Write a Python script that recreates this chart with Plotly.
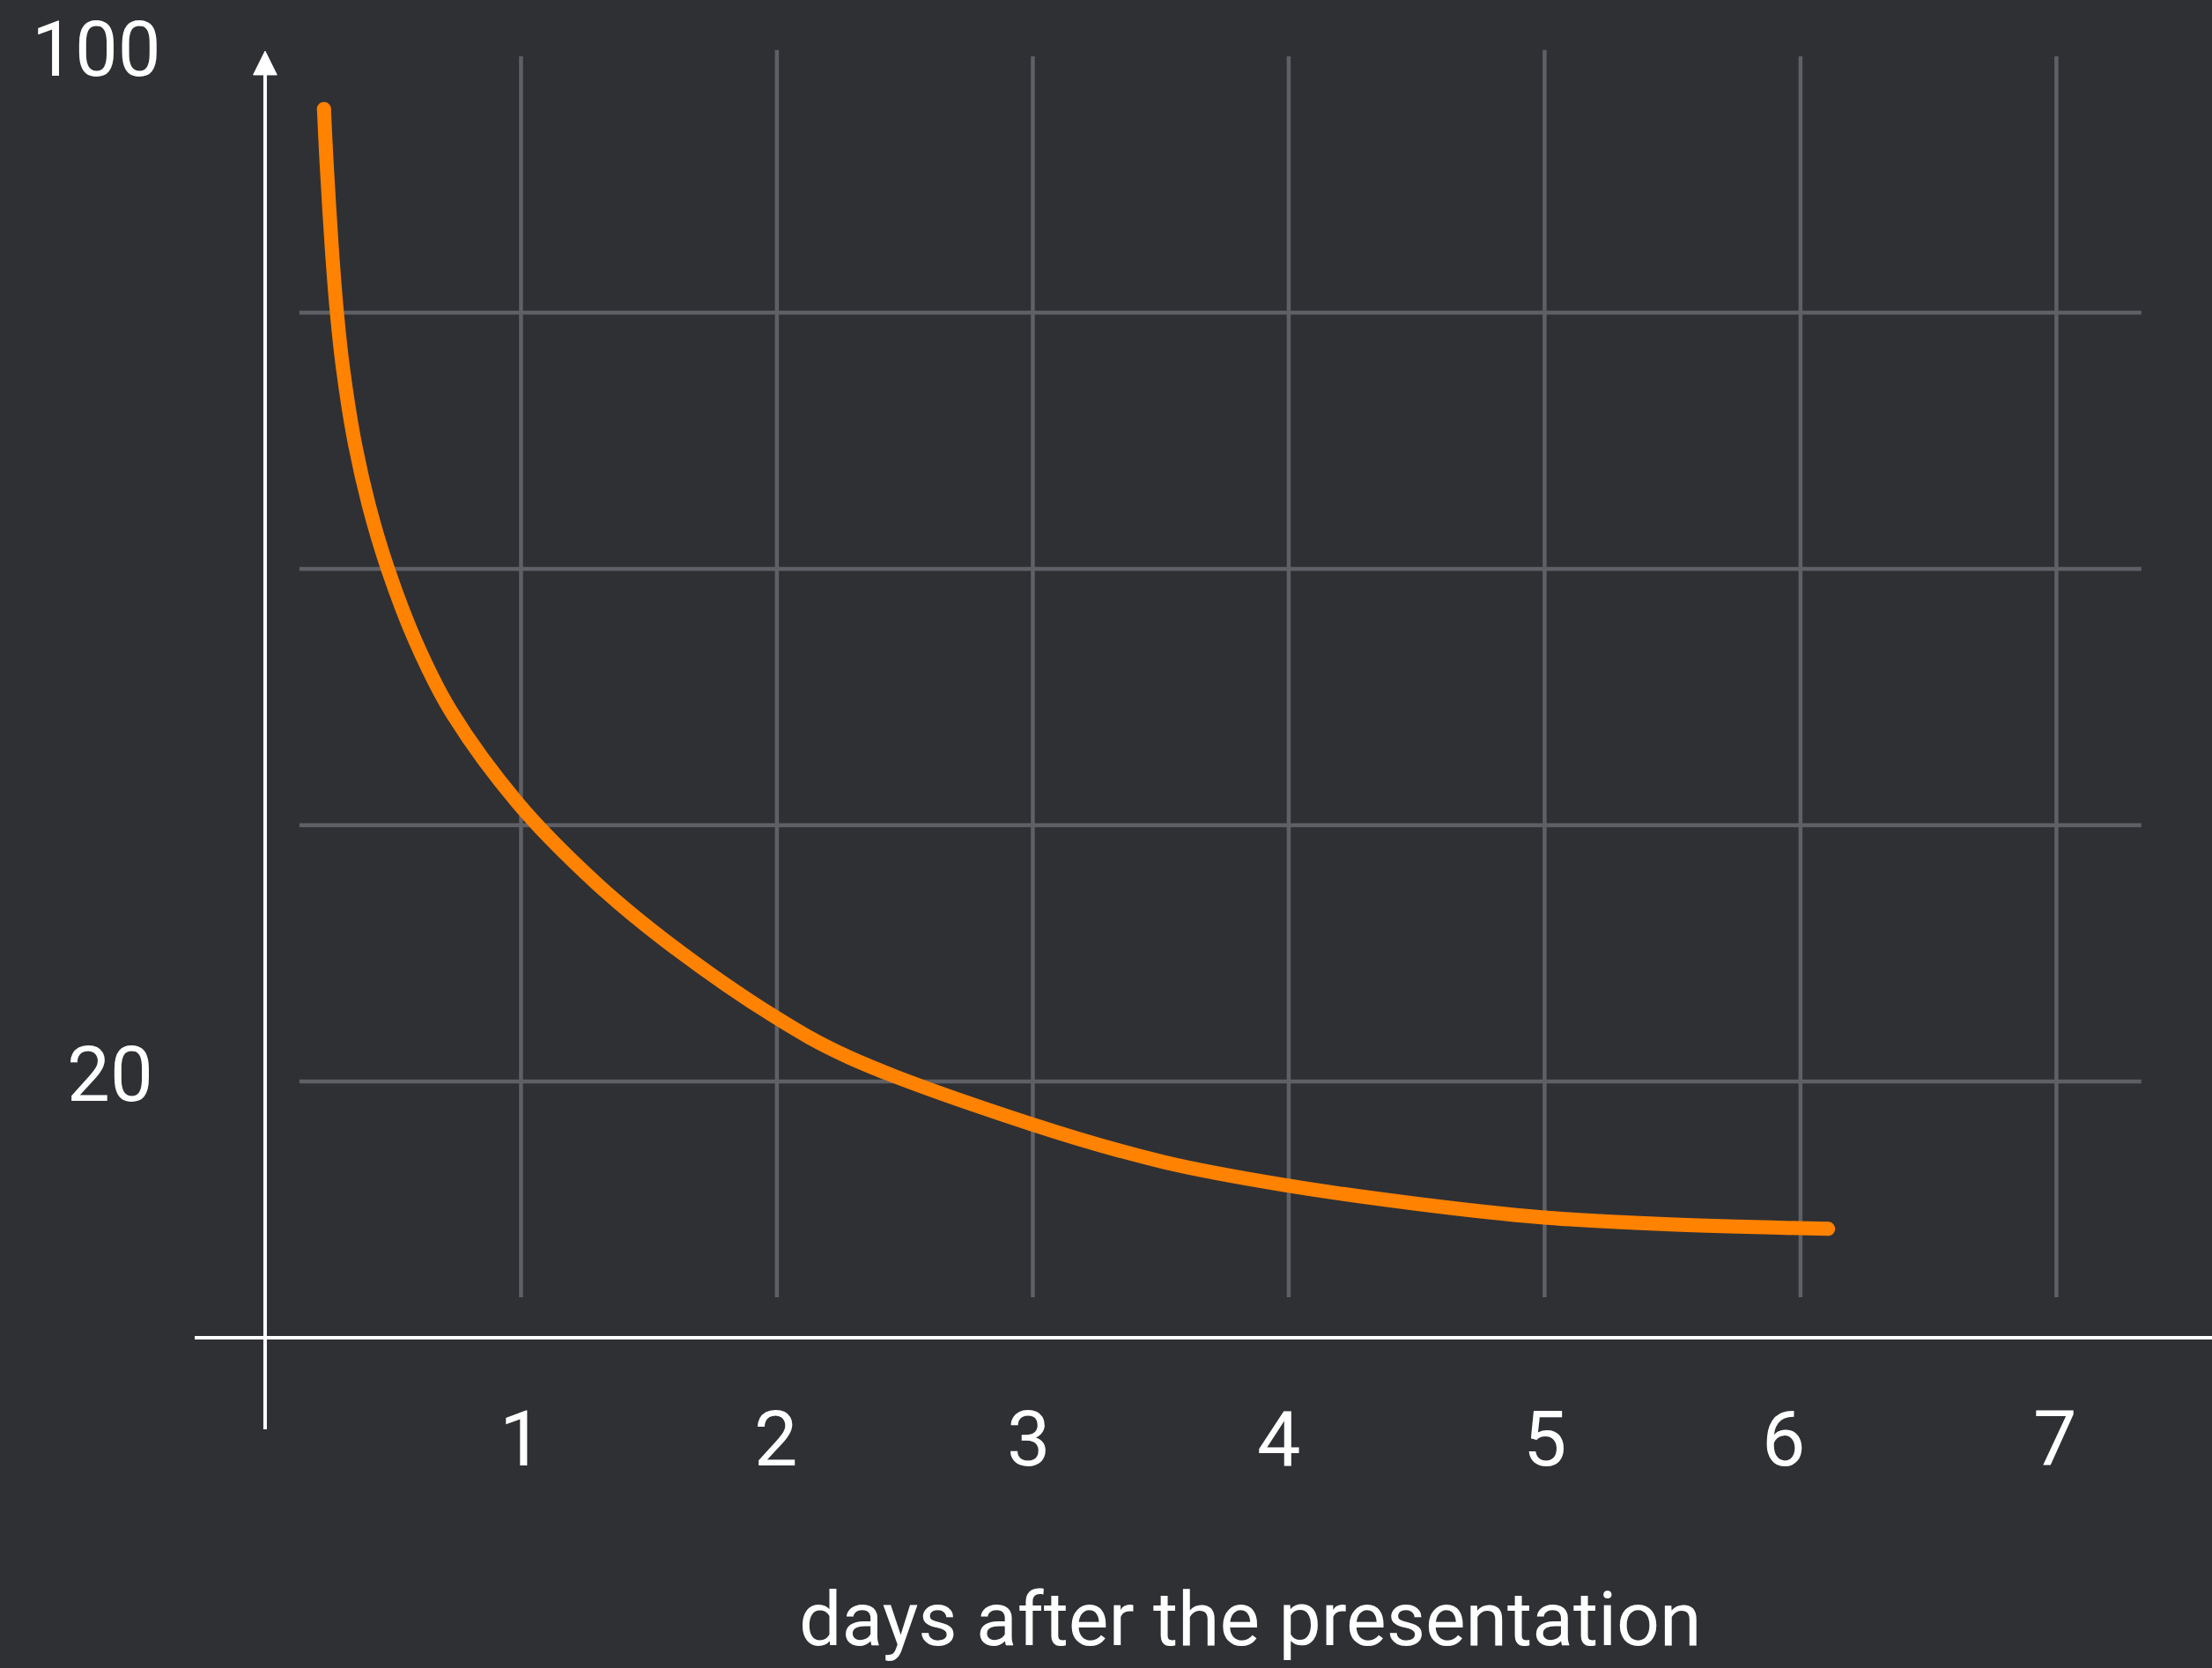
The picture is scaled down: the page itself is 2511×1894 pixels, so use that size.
import plotly.graph_objects as go

# ---- data ----
days = [0.230, 0.240, 0.261, 0.281, 0.304, 0.346, 0.405, 0.478, 0.589, 0.726, 0.989,
        1.293, 1.557, 1.992, 2.280, 2.991, 3.515, 3.990, 4.503, 4.988, 5.491, 6.108]
retention = [95.9, 91.8, 84.95, 79.9, 75.7, 70.3, 65.0, 60.1, 54.3, 48.9, 41.7,
             35.5, 31.1, 25.05, 21.9, 16.7, 13.7, 11.9, 10.45, 9.4, 8.85, 8.5]
x_ticks = [1, 2, 3, 4, 5, 6, 7]
x_tick_text = ["1", "2", "3", "4", "5", "6", "7"]
y_grid = [20, 40, 60, 80]
y_ticks = [20, 100]
y_tick_text = ["20", "100"]
x_title = "days after the presentation"

# ---- style ----
BG = "#2F3034"
GRID = "#5E6066"
ORANGE = "#FF8200"
WHITE = "#FFFFFF"
FONT = "Roboto"
x_label_xshift = {1: 0, 2: -1, 3: -5, 4: -11, 5: 0, 6: -19, 7: -2}
y_label_xshift = {20: -125, 100: -116}

fig = go.Figure()

fig.add_trace(go.Scatter(
    x=days, y=retention, mode="lines",
    line=dict(color=ORANGE, width=16, shape="spline", smoothing=1.0, simplify=False),
    hoverinfo="skip", showlegend=False))
# round caps at both ends
fig.add_trace(go.Scatter(
    x=[days[0], days[-1]], y=[retention[0], retention[-1]], mode="markers",
    marker=dict(color=ORANGE, size=16, line=dict(width=0)),
    hoverinfo="skip", showlegend=False))

shapes = []
for xv in x_ticks:
    top = 100.5 if xv in (2, 5) else 100.0
    shapes.append(dict(type="line", xref="x", yref="y", x0=xv, x1=xv, y0=3.16, y1=top,
                       line=dict(color=GRID, width=4.5), layer="below"))
for yv in y_grid:
    shapes.append(dict(type="line", xref="x", yref="y", x0=0.134, x1=7.332, y0=yv, y1=yv,
                       line=dict(color=GRID, width=4.5), layer="below"))
# axes
shapes.append(dict(type="line", xref="x", yref="y", x0=-0.275, x1=7.7, y0=0, y1=0,
                   line=dict(color=WHITE, width=4)))
shapes.append(dict(type="line", xref="x", yref="y", x0=0, x1=0, y0=-7.15, y1=98.7,
                   line=dict(color=WHITE, width=4)))
shapes.append(dict(type="path", xref="x", yref="y",
                   path="M 0 100.41 L -0.046 98.56 L 0.046 98.56 Z",
                   fillcolor=WHITE, line=dict(color=WHITE, width=1)))

annotations = []
for xv, t in zip(x_ticks, x_tick_text):
    annotations.append(dict(x=xv, y=0, xref="x", yref="y", text=t, showarrow=False,
                            xanchor="center", yanchor="middle", yshift=-114,
                            xshift=x_label_xshift[xv],
                            font=dict(family=FONT, size=88, color=WHITE)))
for yv, t in zip(y_ticks, y_tick_text):
    annotations.append(dict(x=0, y=yv, xref="x", yref="y", text=t, showarrow=False,
                            xanchor="right", yanchor="middle", xshift=y_label_xshift[yv],
                            yshift=8, font=dict(family=FONT, size=87, color=WHITE)))
annotations.append(dict(x=3.852, y=0, xref="x", yref="y", text=x_title, showarrow=False,
                        xanchor="center", yanchor="middle", yshift=-319,
                        font=dict(family=FONT, size=86, color=WHITE)))

fig.update_layout(
    width=2511, height=1894, autosize=False,
    margin=dict(l=0, r=0, t=0, b=0),
    paper_bgcolor=BG, plot_bgcolor=BG,
    xaxis=dict(range=[-1.036, 7.608], visible=False, fixedrange=True),
    yaxis=dict(range=[-25.77, 104.40], visible=False, fixedrange=True),
    shapes=shapes, annotations=annotations, showlegend=False,
)

fig.write_html("out.html", config={"displayModeBar": False},
               post_script="document.body.style.margin='0';document.body.style.overflow='hidden';document.body.style.background='#2F3034';")
